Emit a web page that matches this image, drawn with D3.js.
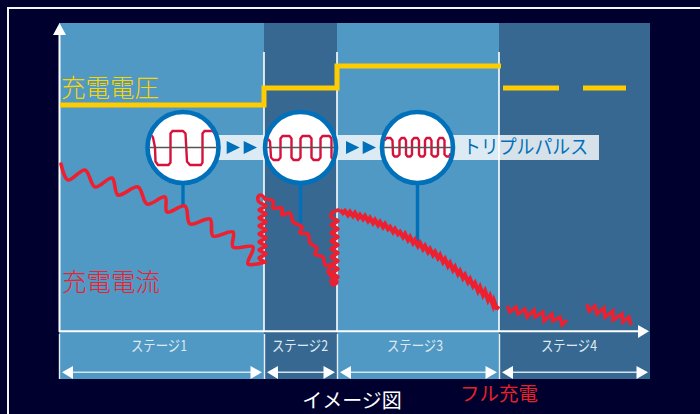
<!DOCTYPE html>
<html>
<head>
<meta charset="utf-8">
<script src="https://cdnjs.cloudflare.com/ajax/libs/d3/7.8.5/d3.min.js"></script>
<style>
html, body { margin: 0; padding: 0; background: #00002f; overflow: hidden; }
svg { display: block; font-family: "Noto Sans CJK JP", "Noto Sans", sans-serif; }
</style>
</head>
<body>
<div id="chart"></div>
<script>
// stages along the time axis
const stageNames = ["ステージ1", "ステージ2", "ステージ3", "ステージ4"];
const stageEdges = [0, 205, 278, 440, 591];
const stageLabelAt = [100, 241, 356, 510];
const stageFill = ["#4f99c4", "#366892", "#4f99c4", "#366892"];

// charge voltage: solid steps, then the two dashes of stage 4
const voltage = [[1, 226], [205, 226], [205, 243], [278, 243], [278, 265], [442, 265]];
const voltageDash1 = [[444, 243], [500, 243]];
const voltageDash2 = [[524, 243], [567, 243]];

// charge current
const current1 = [[2, 167], [9, 151], [26, 161], [36, 144], [53, 153], [59, 136], [79, 144], [88, 127],
    [106, 134], [108, 119], [126, 125], [131, 107], [151, 112], [154, 95], [174, 99], [174, 84],
    [194, 84], [189, 67], [206, 69]];
const coil1 = [[206, 69], [200, 73], [207, 77], [200, 81], [207, 85], [200, 89], [207, 93], [200, 97],
    [207, 101], [200, 105], [207, 109], [200, 113], [207, 117], [200, 121], [207, 125], [200, 129],
    [199, 134], [202, 136], [206, 132]];
const current2 = [[206, 132], [214, 130], [214, 123], [223, 123], [223, 116], [231, 118], [234, 109],
    [243, 104], [241, 98], [249, 97], [251, 88], [258, 83], [256, 77], [264, 74], [266, 66], [272, 66],
    [269, 59], [278, 49], [274, 46], [272, 50]];
const coil2 = [[272, 50], [279, 54], [272, 58], [279, 62], [272, 66], [279, 70], [272, 74], [279, 78],
    [272, 82], [279, 86], [272, 90], [279, 94], [272, 98], [279, 102], [272, 106], [279, 110],
    [272, 114], [273, 118], [279, 121]];
const current3 = [[281, 121], [284, 118], [286, 120], [289, 116], [291, 119], [294, 115], [296, 118],
    [299, 113], [301, 116], [304, 112], [306, 115], [309, 110], [311, 113], [314, 108], [316, 111],
    [319, 106], [321, 109], [324, 104], [326, 107], [329, 102], [331, 104], [334, 99], [336, 102],
    [339, 97], [341, 99], [344, 94], [346, 97], [349, 91], [351, 94], [354, 88], [356, 91], [359, 85],
    [361, 88], [364, 82], [366, 85], [369, 79], [371, 82], [374, 76], [376, 79], [379, 73], [381, 76],
    [384, 69], [386, 72], [389, 65], [391, 68], [394, 61], [396, 64], [399, 57], [401, 60], [404, 53],
    [406, 56], [409, 49], [411, 52], [414, 45], [416, 48], [419, 40], [421, 44], [424, 36], [426, 40],
    [429, 31], [431, 35], [434, 26], [435, 30], [438, 22], [436, 25], [440, 22]];
const current4a = [[448, 25], [451, 19], [457, 24], [459, 17], [466, 22], [468, 14], [475, 21], [476, 14],
    [484, 19], [485, 10], [493, 17], [494, 10], [501, 14], [503, 6], [508, 11]];
const current4b = [[528, 27], [530, 20], [536, 25], [538, 17], [545, 23], [546, 14], [554, 20], [554, 11],
    [563, 17], [564, 9], [570, 14], [572, 6]];

// pulse shapes inside the three circles (phase, amplitude)
const pulseWide = [[-33, 14], [-30, 10], [-28, 0], [-27.5, -14], [-25, -17.5], [-14.5, -17.5], [-12.5, -15],
    [-12.5, 14], [-10.5, 16.5], [0, 16.5], [2.5, 14], [4, -14], [7, -17.5], [18, -17.5], [19.5, -15],
    [19.5, 14], [21.5, 16.5], [30, 16.5], [33, 12]];
const pulseMid = [[-33, 9], [-30.5, 6], [-29.5, -10], [-27, -12.5], [-22, -12.5], [-20, -10], [-20, 9], [-18, 11.5],
    [-11, 11.5], [-9, 9], [-9, -10], [-7, -12.5], [-2, -12.5], [0, -10], [0, 9], [2, 11.5], [9, 11.5], [11, 9],
    [11, -10], [13, -12.5], [18, -12.5], [20, -10], [20, 9], [22, 11.5], [29, 11.5], [31, 9], [31, -10], [33, -12.5]];
const pulseFine = [[-33, 7], [-31, 9.5], [-27, 9.5], [-25, 7], [-24.5, -7], [-23, -9], [-20, -9], [-18, -7],
    [-18, 7], [-16, 9.5], [-13, 9.5], [-11.5, 7], [-11.5, -7], [-10, -9], [-7, -9], [-5.5, -7], [-5.5, 7],
    [-3.5, 9.5], [0, 9.5], [1.5, 7], [1.5, -7], [3, -9], [6, -9], [7.5, -7], [7.5, 7], [9, 9.5], [12.5, 9.5],
    [14, 7], [14, -7], [16, -9], [19, -9], [20.5, -7], [20.5, 7], [22, 9.5], [25.5, 9.5], [27, 7], [27, -7],
    [29, -9], [32, -9], [33, -6]];

const pulseTimes = [124, 241.5, 358.5];
const pulseShapes = [pulseWide, pulseMid, pulseFine];
const stemEnds = [124, 105, 84];
const pulseLabel = "トリプルパルス";

const width = 700, height = 414;
const x = d3.scaleLinear().domain([0, 591]).range([59, 650]);
const y = d3.scaleLinear().domain([0, 308]).range([331, 23]);
const phase = d3.scaleLinear().domain([-33, 33]).range([-33, 33]);
const amp = d3.scaleLinear().domain([-20, 20]).range([20, -20]);

const svg = d3.select("#chart").append("svg")
    .attr("width", width)
    .attr("height", height);

// outer frame
svg.append("rect")
    .attr("x", 8).attr("y", 8)
    .attr("width", 720).attr("height", 440)
    .attr("fill", "none")
    .attr("stroke", "#f4f6fa")
    .attr("stroke-width", 2);

// stage bands
svg.selectAll("rect.band")
    .data(stageNames)
    .enter()
    .append("rect")
    .attr("class", "band")
    .attr("x", (d, i) => x(stageEdges[i]))
    .attr("y", y(308))
    .attr("width", (d, i) => x(stageEdges[i + 1]) - x(stageEdges[i]))
    .attr("height", 379 - y(308))
    .attr("fill", (d, i) => stageFill[i]);

// stage dividers, above and below the time axis
svg.selectAll("line.div")
    .data(stageEdges.slice(1, 4))
    .enter()
    .append("line")
    .attr("class", "div")
    .attr("x1", d => x(d)).attr("x2", d => x(d))
    .attr("y1", 52).attr("y2", 331)
    .attr("stroke", "#fff")
    .attr("stroke-width", 1.6);

svg.selectAll("line.tick")
    .data(stageEdges.slice(0, 4))
    .enter()
    .append("line")
    .attr("class", "tick")
    .attr("x1", d => x(d) + 0.5).attr("x2", d => x(d) + 0.5)
    .attr("y1", 334).attr("y2", 379)
    .attr("stroke", "#e8eef4")
    .attr("stroke-width", 1.4);

// axes
svg.append("line")
    .attr("x1", x(0) + 0.5).attr("x2", x(0) + 0.5)
    .attr("y1", y(0) + 1).attr("y2", 34)
    .attr("stroke", "#fff").attr("stroke-width", 2);
svg.append("path")
    .attr("d", `M${x(0) + 0.5},23L66,35L53,35Z`)
    .attr("fill", "#fff");
svg.append("line")
    .attr("x1", x(0)).attr("x2", 640)
    .attr("y1", y(0) + 0.3).attr("y2", y(0) + 0.3)
    .attr("stroke", "#fff").attr("stroke-width", 2);
svg.append("path")
    .attr("d", `M649,331.3L638,325L638,338Z`)
    .attr("fill", "#fff");

// strip behind the pulse circles
svg.append("rect")
    .attr("x", x(pulseTimes[0])).attr("y", 135)
    .attr("width", 599 - x(pulseTimes[0])).attr("height", 25)
    .attr("fill", "#fff").attr("opacity", 0.8);

// little play triangles between circles
const playStarts = [226.7, 243.7, 346, 362.7];
svg.selectAll("path.play")
    .data(playStarts)
    .enter()
    .append("path")
    .attr("class", "play")
    .attr("d", d => `M${d},141L${d + 13.3},147.5L${d},154Z`)
    .attr("fill", "#0070ba");

svg.append("text")
    .attr("x", 463).attr("y", 154)
    .attr("textLength", 125)
    .attr("lengthAdjust", "spacingAndGlyphs")
    .attr("font-size", 19)
    .attr("fill", "#0070ba")
    .text(pulseLabel);

// voltage
const lineLinear = d3.line().x(d => x(d[0])).y(d => y(d[1]));
[voltage, voltageDash1, voltageDash2].forEach(function(v) {
    svg.append("path")
        .attr("d", lineLinear(v))
        .attr("fill", "none")
        .attr("stroke", "#ffcc00")
        .attr("stroke-width", 5);
});

// stems and circles
svg.selectAll("line.stem")
    .data(pulseTimes)
    .enter()
    .append("line")
    .attr("class", "stem")
    .attr("x1", d => x(d)).attr("x2", d => x(d))
    .attr("y1", 183)
    .attr("y2", (d, i) => y(stemEnds[i]))
    .attr("stroke", "#0070ba")
    .attr("stroke-width", 3.4);

const defs = svg.append("defs");
defs.append("clipPath").attr("id", "lens")
    .append("circle").attr("r", 33.5);

const lineWave = d3.line()
    .x(d => phase(d[0]))
    .y(d => amp(d[1]));

const lens = svg.selectAll("g.lens")
    .data(pulseTimes)
    .enter()
    .append("g")
    .attr("class", "lens")
    .attr("transform", d => `translate(${x(d)},147.5)`);

lens.append("circle")
    .attr("r", 35.5)
    .attr("fill", "#fff")
    .attr("stroke", "#0070ba")
    .attr("stroke-width", 4.6);

lens.append("path")
    .attr("clip-path", "url(#lens)")
    .attr("d", (d, i) => lineWave(pulseShapes[i]))
    .attr("fill", "none")
    .attr("stroke", "#d7103c")
    .attr("stroke-width", 2.4)
    .attr("stroke-linejoin", "round");

lens.append("line")
    .attr("x1", -33.5).attr("x2", 33.5)
    .attr("stroke", "#555")
    .attr("stroke-width", 1.4);

// current
const lineSmooth = d3.line()
    .x(d => x(d[0])).y(d => y(d[1]))
    .curve(d3.curveCatmullRom.alpha(0.5));

[current1, coil1, current2, coil2].forEach(function(c) {
    svg.append("path")
        .attr("d", lineSmooth(c))
        .attr("fill", "none")
        .attr("stroke", "#ee2030")
        .attr("stroke-width", 3.6)
        .attr("stroke-linecap", "round");
});
svg.append("path")
    .attr("d", lineLinear(current3))
    .attr("fill", "none")
    .attr("stroke", "#ee2030")
    .attr("stroke-width", 4.2);
[current4a, current4b].forEach(function(c) {
    svg.append("path")
        .attr("d", lineLinear(c))
        .attr("fill", "none")
        .attr("stroke", "#ee2030")
        .attr("stroke-width", 3.4);
});

// stage labels and span arrows
const stageGroup = svg.selectAll("g.stage")
    .data(stageNames)
    .enter()
    .append("g")
    .attr("class", "stage");

stageGroup.append("text")
    .attr("x", (d, i) => x(stageLabelAt[i]))
    .attr("y", 351)
    .attr("text-anchor", "middle")
    .attr("font-size", 15)
    .attr("fill", "#dfe8f0")
    .attr("textLength", 56)
    .attr("lengthAdjust", "spacingAndGlyphs")
    .text(d => d);

stageGroup.append("line")
    .attr("x1", (d, i) => x(stageEdges[i]) + 12)
    .attr("x2", (d, i) => x(stageEdges[i + 1]) - 12)
    .attr("y1", 372.3).attr("y2", 372.3)
    .attr("stroke", "#d6e4ef")
    .attr("stroke-width", 1.6);

stageGroup.append("path")
    .attr("d", function(d, i) {
        const a = x(stageEdges[i]) + 3, b = x(stageEdges[i + 1]) - 2;
        return `M${a},372.3L${a + 11},366L${a + 11},379Z` +
               `M${b},372.3L${b - 11.5},366L${b - 11.5},379Z`;
    })
    .attr("fill", "#fff");

// labels
svg.append("text")
    .attr("x", 61).attr("y", 97)
    .attr("font-size", 24.5).attr("font-weight", 300)
    .attr("fill", "#ffd400")
    .text("充電電圧");
svg.append("text")
    .attr("x", 62).attr("y", 291)
    .attr("font-size", 24.5).attr("font-weight", 300)
    .attr("fill", "#ee2030")
    .text("充電電流");
svg.append("text")
    .attr("x", 460).attr("y", 401)
    .attr("font-size", 19.5)
    .attr("fill", "#e8202a")
    .text("フル充電");
svg.append("text")
    .attr("x", 352).attr("y", 408)
    .attr("text-anchor", "middle")
    .attr("font-size", 20)
    .attr("fill", "#fff")
    .text("イメージ図");
</script>
</body>
</html>
